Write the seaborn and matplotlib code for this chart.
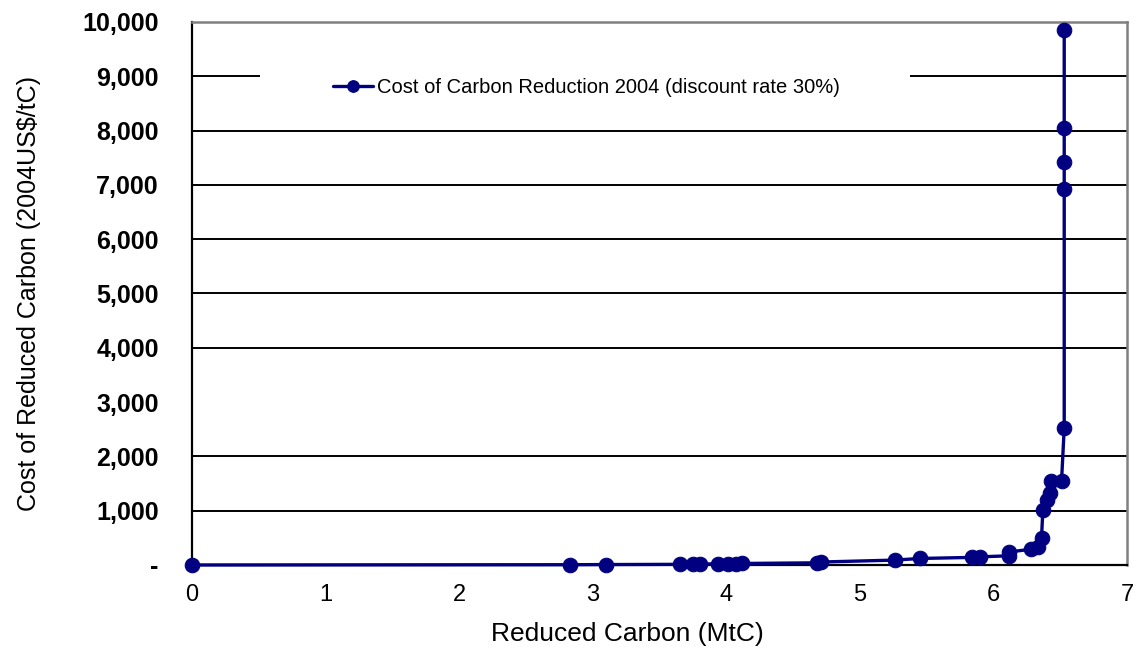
import pandas as pd
import matplotlib.pyplot as plt
import matplotlib.ticker as mticker
from matplotlib.patches import Rectangle
import seaborn as sns

sns.set_theme(style="white")
plt.rcParams['font.family'] = ['Liberation Sans', 'DejaVu Sans']
plt.rcParams['text.color'] = 'black'
plt.rcParams['axes.labelcolor'] = 'black'
plt.rcParams['xtick.color'] = 'black'
plt.rcParams['ytick.color'] = 'black'

# reduced carbon (MtC) vs cost (2004US$/tC)
reduced_carbon = [0, 2.83, 3.10, 3.65, 3.75, 3.80, 3.94, 4.01, 4.07, 4.12,
                  4.68, 4.71, 5.26, 5.45, 5.84, 5.90, 6.12, 6.12, 6.28, 6.33,
                  6.36, 6.37, 6.40, 6.42, 6.43, 6.51, 6.53, 6.53, 6.53, 6.53, 6.53]
cost = [0, 5, 8, 12, 15, 18, 20, 22, 25, 28,
        40, 55, 90, 120, 140, 150, 170, 240, 290, 330,
        500, 1010, 1200, 1320, 1540, 1550, 2520, 6920, 7430, 8040, 9860]
series_name = 'Cost of Carbon Reduction 2004 (discount rate 30%)'

y_ticks = list(range(0, 10001, 1000))
x_ticks = list(range(0, 8))

df = pd.DataFrame({'x': reduced_carbon, 'y': cost})

fig = plt.figure(figsize=(11.37, 6.54), dpi=100)
ax = fig.add_axes([0.1689, 0.1361, 0.8223, 0.8303])

navy = '#000080'
sns.lineplot(data=df, x='x', y='y', ax=ax, sort=False, estimator=None,
             color=navy, lw=2.4, marker='o', markersize=10.5,
             markeredgecolor=navy, markerfacecolor=navy,
             label=series_name, clip_on=False, zorder=3)

ax.set_xlim(0, 7)
ax.set_ylim(0, 10000)
ax.set_xticks(x_ticks)
ax.set_yticks(y_ticks)
ax.yaxis.set_major_formatter(mticker.FuncFormatter(
    lambda v, p: '-' if v == 0 else f'{v:,.0f}'))

# horizontal grid, the 3,000 line is missing in the original
ax.yaxis.grid(True, color='black', lw=1.4)
ax.xaxis.grid(False)
ax.set_axisbelow(True)
ax.get_ygridlines()[3].set_visible(False)

for s in ['left', 'bottom']:
    ax.spines[s].set_color('black')
    ax.spines[s].set_linewidth(1.6)
for s in ['top', 'right']:
    ax.spines[s].set_color('#808080')
    ax.spines[s].set_linewidth(1.8)

ax.tick_params(axis='y', direction='inout', length=10, width=1.4,
               color='black', pad=19, labelsize=18)
ax.tick_params(axis='x', direction='out', length=6, width=1.4,
               color='black', pad=8, labelsize=17)
for t in ax.get_yticklabels():
    t.set_fontweight('bold')

ax.set_xlabel('Reduced Carbon (MtC)', fontsize=19)
ax.set_ylabel('Cost of Reduced Carbon (2004US$/tC)', fontsize=18)
ax.xaxis.set_label_coords(0.466, -0.105)
ax.yaxis.set_label_coords(-0.162, 0.5)

# white legend box that cuts through the 9,000 grid line
ax.add_patch(Rectangle((0.0727, 0.847), 0.695, 0.065, transform=ax.transAxes,
                       facecolor='white', edgecolor='none', zorder=1))
ax.legend(loc='center', bbox_to_anchor=(0.422, 0.88), frameon=False,
          fontsize=14.5, handlelength=2.0, handletextpad=0.2, markerscale=0.8)

plt.savefig('out.png', dpi=100)
